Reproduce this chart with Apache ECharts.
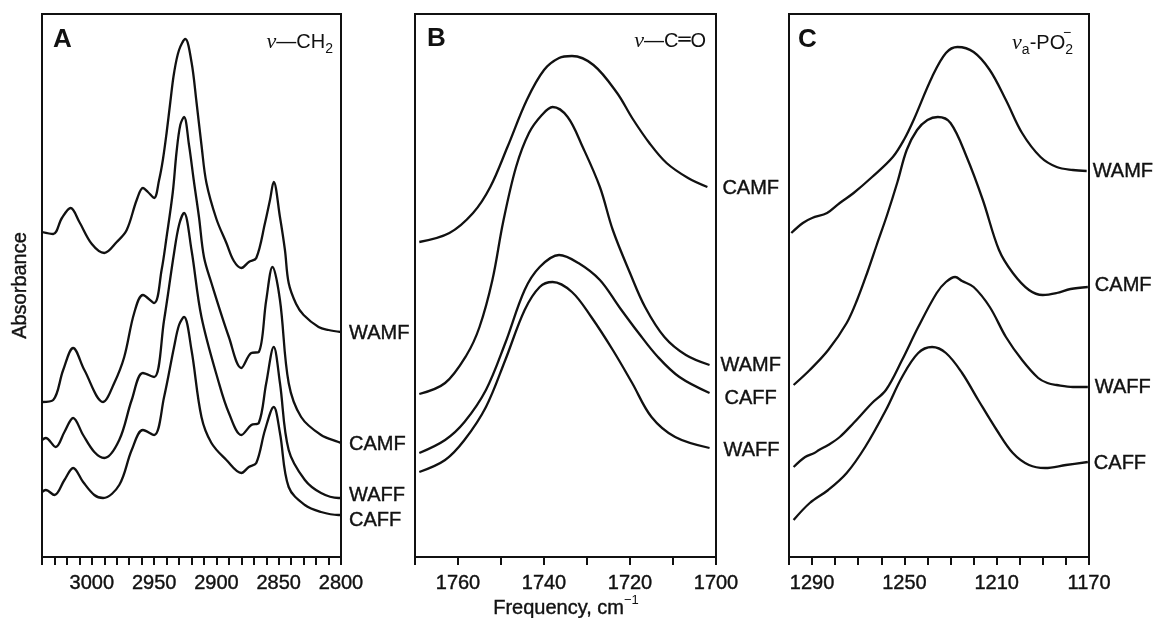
<!DOCTYPE html>
<html>
<head>
<meta charset="utf-8">
<title>FTIR bands</title>
<script src="https://cdn.jsdelivr.net/npm/echarts@6/dist/echarts.min.js"></script>
<style>
html,body{margin:0;padding:0;background:#fff;}
#main{width:1157px;height:618px;}
</style>
</head>
<body>
<div id="main"></div>
<script>
// tick labels
const labelsA = [3000, 2950, 2900, 2850, 2800]
const labelsB = [1760, 1740, 1720, 1700]
const labelsC = [1290, 1250, 1210, 1170]

// panel A, nu-CH2   [frequency cm-1, absorbance (arb.)]
const wamfA = [[3040,3.25],[3031,3.23],[3024,3.39],[3017,3.49],[3010,3.35],[3000,3.13],[2990,3.04],[2980,3.15],[2972,3.27],[2964,3.57],[2959,3.69],[2955,3.65],[2950,3.59],[2946,3.77],[2943,3.97],[2940,4.24],[2937,4.55],[2934,4.84],[2930,5.07],[2925,5.18],[2920,4.95],[2916,4.55],[2912,4.12],[2908,3.74],[2900,3.38],[2892,3.14],[2886,2.96],[2880,2.89],[2874,2.95],[2868,2.99],[2861,3.34],[2857,3.57],[2854,3.75],[2849,3.40],[2845,3.07],[2842,2.74],[2836,2.53],[2830,2.42],[2818,2.30],[2810,2.27],[2800,2.25]]
const camfA = [[3040,1.55],[3031,1.57],[3023,1.87],[3015,2.09],[3006,1.87],[2991,1.55],[2982,1.74],[2974,2.00],[2966,2.44],[2959,2.62],[2950,2.54],[2944,2.87],[2940,3.20],[2935,3.65],[2932,4.05],[2929,4.32],[2926,4.40],[2922,4.12],[2918,3.75],[2914,3.40],[2910,3.00],[2904,2.74],[2890,2.20],[2880,1.89],[2872,2.04],[2866,2.05],[2860,2.57],[2855,2.90],[2849,2.57],[2842,1.74],[2832,1.40],[2816,1.22],[2802,1.15],[2800,1.14]]
const waffA = [[3040,1.17],[3037,1.19],[3029,1.10],[3022,1.25],[3015,1.39],[3007,1.22],[2998,1.05],[2990,0.99],[2978,1.17],[2968,1.57],[2959,1.84],[2950,1.80],[2942,2.37],[2934,3.04],[2930,3.32],[2926,3.44],[2920,3.07],[2912,2.40],[2898,1.74],[2890,1.44],[2880,1.22],[2872,1.32],[2866,1.34],[2860,1.74],[2854,2.10],[2849,1.74],[2842,1.07],[2829,0.77],[2816,0.64],[2802,0.59],[2800,0.59]]
const caffA = [[3040,0.65],[3037,0.67],[3030,0.62],[3022,0.77],[3015,0.89],[3007,0.75],[2998,0.62],[2991,0.59],[2978,0.72],[2968,1.07],[2959,1.27],[2950,1.22],[2942,1.60],[2934,2.10],[2930,2.32],[2926,2.40],[2920,2.07],[2912,1.40],[2904,1.14],[2892,0.97],[2880,0.84],[2874,0.90],[2868,0.94],[2861,1.27],[2854,1.50],[2849,1.24],[2842,0.70],[2829,0.52],[2816,0.45],[2802,0.42],[2800,0.42]]

// panel B, nu-C=O
const camfB = [[1769,3.15],[1762,3.24],[1756.5,3.44],[1752.5,3.70],[1748.5,4.10],[1744,4.57],[1740,4.87],[1736.5,4.99],[1733.5,5.01],[1728.5,4.92],[1723,4.64],[1719.5,4.39],[1715.5,4.14],[1711.5,3.94],[1706.5,3.79],[1702,3.70]]
const wamfB = [[1769,1.63],[1763,1.74],[1758,2.02],[1755,2.30],[1752,2.77],[1749.5,3.35],[1746.5,3.90],[1743.5,4.24],[1740.5,4.42],[1738,4.50],[1734.5,4.40],[1731,4.10],[1727,3.70],[1724,3.27],[1720,2.84],[1716.5,2.50],[1712,2.20],[1707,2.02],[1701.5,1.92]]
const caffB = [[1769,1.04],[1763,1.17],[1758.5,1.35],[1753.5,1.67],[1749,2.14],[1744.5,2.67],[1741,2.90],[1736.5,3.02],[1732,2.94],[1727,2.77],[1722.5,2.50],[1718,2.24],[1713.5,2.00],[1708.5,1.80],[1701.5,1.64]]
const waffB = [[1769,0.85],[1763,0.97],[1758.5,1.17],[1753.5,1.50],[1749,1.97],[1744.5,2.47],[1741,2.70],[1738,2.75],[1733.5,2.65],[1729,2.40],[1724,2.07],[1719.5,1.74],[1715,1.40],[1709.5,1.20],[1701.5,1.09]]

// panel C, nu_a-PO2-
const wamfC = [[1299,3.24],[1294,3.34],[1290,3.39],[1283.5,3.44],[1278,3.54],[1272,3.64],[1264,3.80],[1255,4.00],[1250,4.18],[1246,4.37],[1238,4.80],[1232,5.04],[1227,5.10],[1220,5.05],[1213,4.87],[1206,4.57],[1199,4.24],[1191,4.00],[1184,3.90],[1177,3.87],[1171,3.86]]
const camfC = [[1298,1.72],[1291,1.87],[1283,2.07],[1275,2.34],[1270.5,2.57],[1266,2.85],[1262,3.12],[1257.5,3.42],[1253,3.75],[1249,4.07],[1244.5,4.27],[1240,4.37],[1235.5,4.40],[1230,4.34],[1223,4.00],[1216,3.57],[1209,3.07],[1203,2.84],[1196,2.67],[1190,2.62],[1184,2.64],[1178,2.68],[1170.5,2.70]]
const waffC = [[1298,0.90],[1293,1.00],[1289,1.04],[1287,1.07],[1283,1.12],[1278,1.20],[1272,1.34],[1268,1.44],[1264,1.54],[1258,1.67],[1251,1.97],[1244,2.30],[1236,2.64],[1232,2.75],[1228,2.80],[1225,2.76],[1220,2.70],[1213,2.50],[1206,2.20],[1199,1.97],[1192,1.79],[1188,1.74],[1184,1.72],[1177,1.70],[1170.5,1.70]]
const caffC = [[1298,0.37],[1291,0.54],[1283,0.67],[1275,0.84],[1267,1.10],[1258,1.47],[1251,1.80],[1244,2.04],[1238,2.10],[1232,2.04],[1225,1.84],[1218,1.57],[1210,1.27],[1203,1.04],[1196,0.92],[1189,0.89],[1180,0.92],[1170.5,0.95]]

const FONT = '"Liberation Sans", Arial, sans-serif'
const INK = '#111'

function spec(name, data, idx, dist, dy){
  return {
    name: name,
    type: 'line',
    xAxisIndex: idx,
    yAxisIndex: idx,
    data: data,
    smooth: 0.35,
    showSymbol: false,
    symbol: 'none',
    lineStyle: { color: INK, width: 2.3 },
    endLabel: {
      show: true,
      formatter: '{a}',
      color: INK,
      fontSize: 20,
      fontFamily: FONT,
      textBorderColor: INK,
      textBorderWidth: 0.4,
      // x axis is inverse, so flip the side the label sits on
      align: 'left',
      distance: -dist,
      offset: [0, dy]
    }
  }
}

function xax(idx, min, max, labels){
  return {
    gridIndex: idx,
    type: 'value',
    inverse: true,
    min: min,
    max: max,
    interval: 10,
    axisLine: { show: true, onZero: false, lineStyle: { color: INK, width: 2 } },
    axisTick: { show: true, inside: false, length: 8, lineStyle: { color: INK, width: 2 } },
    axisLabel: {
      margin: 16,
      color: INK,
      fontSize: 20,
      fontFamily: FONT,
      textBorderColor: INK,
      textBorderWidth: 0.4,
      formatter: function(v){ v = Math.round(v); return labels.indexOf(v) >= 0 ? String(v) : '' }
    },
    splitLine: { show: false }
  }
}

function yax(idx){
  return { gridIndex: idx, type: 'value', min: 0, max: 5.43, show: false }
}

const chart = echarts.init(document.getElementById('main'))
// fixed boxes
const grid = { show: true, borderColor: INK, borderWidth: 2, top: 14, height: 543, outerBoundsMode: 'none', containLabel: false }

const option = {
  animation: false,
  backgroundColor: '#fff',
  grid: [
    Object.assign({ left: 42, width: 299 }, grid),
    Object.assign({ left: 415, width: 301 }, grid),
    Object.assign({ left: 789, width: 300 }, grid)
  ],
  xAxis: [
    xax(0, 2800, 3040, labelsA),
    xax(1, 1700, 1770, labelsB),
    xax(2, 1170, 1300, labelsC)
  ],
  yAxis: [
    {
      gridIndex: 0, type: 'value', min: 0, max: 5.43,
      axisLine: { show: false }, axisTick: { show: false }, axisLabel: { show: false }, splitLine: { show: false },
      name: 'Absorbance', nameLocation: 'middle', nameGap: 12,
      nameTextStyle: { fontSize: 20, fontFamily: FONT, color: INK, textBorderColor: INK, textBorderWidth: 0.4 }
    },
    yax(1),
    yax(2)
  ],
  graphic: [
    // shared x title under panel B
    { type: 'text', x: 566, y: 606, style: {
        text: '{t|Frequency, cm}{s|\u22121}', align: 'center', verticalAlign: 'middle',
        rich: {
          t: { fontSize: 20, fontFamily: FONT, fill: INK, stroke: INK, lineWidth: 0.4, lineHeight: 24, verticalAlign: 'bottom' },
          s: { fontSize: 13, fontFamily: FONT, fill: INK, lineHeight: 24, verticalAlign: 'top' }
        } } },
    { type: 'text', x: 53, y: 40, style: { text: 'A', font: 'bold 26px ' + FONT, fill: INK, verticalAlign: 'middle' } },
    { type: 'text', x: 427, y: 39, style: { text: 'B', font: 'bold 26px ' + FONT, fill: INK, verticalAlign: 'middle' } },
    { type: 'text', x: 798, y: 40, style: { text: 'C', font: 'bold 26px ' + FONT, fill: INK, verticalAlign: 'middle' } },
    { type: 'text', x: 333, y: 42, style: {
        text: '{n|\u03bd}{t|\u2014CH}{s|2}', align: 'right', verticalAlign: 'middle',
        rich: {
          n: { fontSize: 22, fontStyle: 'italic', fontFamily: '"Liberation Serif", serif', fill: INK, lineHeight: 28, verticalAlign: 'middle' },
          t: { fontSize: 20, fontFamily: FONT, fill: INK, lineHeight: 28, verticalAlign: 'middle' },
          s: { fontSize: 14, fontFamily: FONT, fill: INK, lineHeight: 14, verticalAlign: 'bottom' }
        } } },
    { type: 'text', x: 706, y: 41, style: {
        text: '{n|\u03bd}{t|\u2014C}{d|\u2550}{t|O}', align: 'right', verticalAlign: 'middle',
        rich: {
          n: { fontSize: 22, fontStyle: 'italic', fontFamily: '"Liberation Serif", serif', fill: INK, lineHeight: 28, verticalAlign: 'middle' },
          t: { fontSize: 20, fontFamily: FONT, fill: INK, lineHeight: 28, verticalAlign: 'middle' },
          d: { fontSize: 20, fontFamily: '"DejaVu Sans"', fill: INK, lineHeight: 28, verticalAlign: 'middle' }
        } } },
    { type: 'text', x: 1073, y: 43, style: {
        text: '{n|\u03bd}{s|a}{t|-PO}{s|2}', align: 'right', verticalAlign: 'middle',
        rich: {
          n: { fontSize: 22, fontStyle: 'italic', fontFamily: '"Liberation Serif", serif', fill: INK, lineHeight: 28, verticalAlign: 'middle' },
          t: { fontSize: 20, fontFamily: FONT, fill: INK, lineHeight: 28, verticalAlign: 'middle' },
          s: { fontSize: 14, fontFamily: FONT, fill: INK, lineHeight: 14, verticalAlign: 'bottom' }
        } } },
    { type: 'text', x: 1067, y: 33, style: { text: '\u2212', font: '14px ' + FONT, fill: INK, align: 'center', verticalAlign: 'middle' } }
  ],
  series: [
    spec('WAMF', wamfA, 0, 8, 1),
    spec('CAMF', camfA, 0, 8, 1),
    spec('WAFF', waffA, 0, 8, -3),
    spec('CAFF', caffA, 0, 8, 5),
    spec('CAMF', camfB, 1, 15, 1),
    spec('WAMF', wamfB, 1, 11, 0),
    spec('CAFF', caffB, 1, 15, 5),
    spec('WAFF', waffB, 1, 14, 2),
    spec('WAMF', wamfC, 2, 6, 0),
    spec('CAMF', camfC, 2, 7, -2),
    spec('WAFF', waffC, 2, 7, 0),
    spec('CAFF', caffC, 2, 6, 1)
  ]
}

chart.setOption(option)
window.addEventListener('resize', () => { chart.resize() })
</script>
</body>
</html>
